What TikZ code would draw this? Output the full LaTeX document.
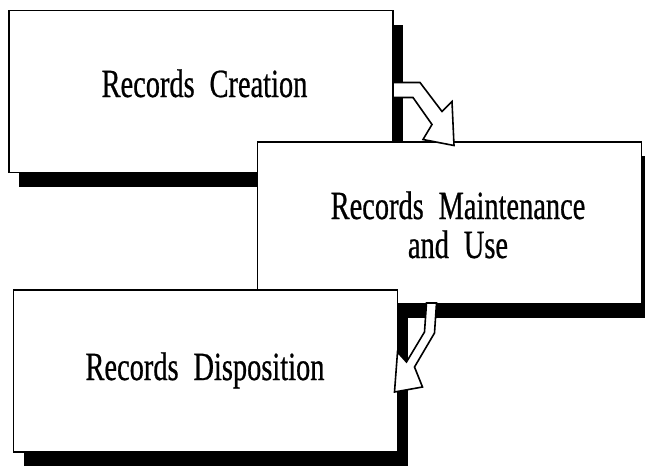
\documentclass[tikz,border=0pt]{standalone}
\usepackage{fontspec}
\setmainfont[FakeStretch=0.71, FakeBold=0.6, WordSpace=2.1]{Liberation Serif}
\usetikzlibrary{shadows}
\tikzset{
    stagebox/.style={draw, fill=white, line width=1.4pt, outer sep=0pt,
    	minimum width=384pt, minimum height=162pt,
    	drop shadow={shadow xshift=10pt, shadow yshift=-14pt, fill=black,
    	opacity=1}}
}
\tikzset{
    stagetext/.style={font=\fontsize{40}{38}\selectfont, align=center,
    	inner sep=0pt}
}
\tikzset{
    blockarrow/.style={draw, fill=white, line width=1.6pt, line join=miter}
}

\begin{document}
\begin{tikzpicture}[x=1pt, y=-1pt]
	\useasboundingbox (0,0) rectangle (645,466);
	\clip (0,0) rectangle (645,466);

	\node (creation) [stagebox] at (201,91.5) {};
	\node (maintenance) [stagebox] at (449.5,223) {};
	\node (disposition) [stagebox] at (205.5,371) {};

	\node (creationlabel) [stagetext, anchor=base] at (204.5,97) {Records Creation};
	\node (maintenancelabel) [stagetext, anchor=base] at (458,258) {Records Maintenance\\[1pt]and Use};
	\node (dispositionlabel) [stagetext, anchor=base] at (205,380) {Records Disposition};

	\begin{scope}[shift={(creation.north east)}]
		\draw[blockarrow] (0,72) -- (27,72) -- (49,101) -- (59,91) -- (61,135)
			-- (30,129) -- (39,114) -- (20,87) -- (0,87) -- cycle;
	\end{scope}
	\begin{scope}[shift={(disposition.north east)}]
		\draw[blockarrow] (29,13) -- (39,13) -- (37,43) -- (17,77) -- (25,97)
			-- (-3,102) -- (0,62) -- (9,72) -- (27,42) -- cycle;
	\end{scope}
\end{tikzpicture}
\end{document}
